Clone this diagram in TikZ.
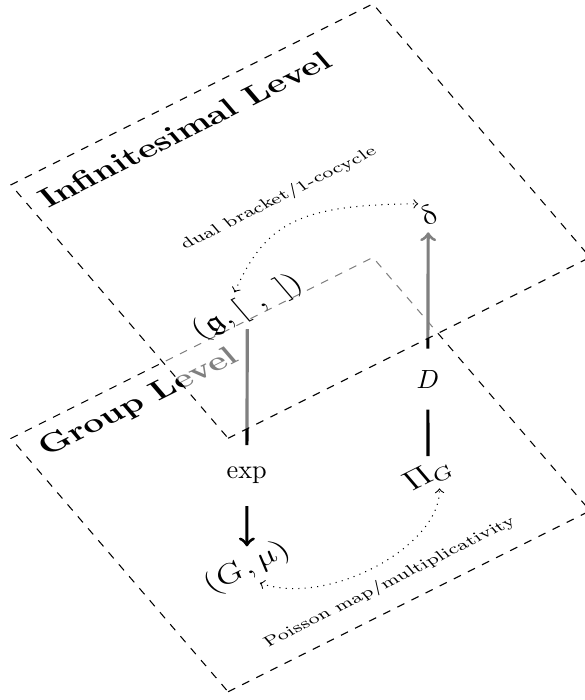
\RequirePackage{fix-cm}
\documentclass[tikz,border=0pt]{standalone}
\usepackage{amssymb}
\pgfdeclarelayer{veil}
\pgfdeclarelayer{upper}
\pgfsetlayers{main,veil,upper}
\begin{document}
\begin{tikzpicture}[>=to,
  sheet/.style={cm={1,0.5,-0.6,0.7,(0,0)}, transform shape},
  frame/.style={dashed},
  title/.style={font=\large\bfseries, anchor=base west},
  obj/.style={font=\large, inner sep=2pt},
  note/.style={font=\fontsize{6.5}{8}\selectfont},
  link/.style={very thick},
  mapname/.style={minimum height=8mm},
  pairing/.style={dotted, <->}]
  \useasboundingbox (0,0) rectangle (7.82,9.36);
  \begin{scope}[shift={(3.05,0.11)}, sheet]
    \draw[frame] (0,0) -- (4.84,0) -- (4.84,4.84) -- (0,4.84) -- cycle;
    \node[title] (grp) at (0.07,4.35) {Group Level};
    \node[obj] (G) at (1.17,1.53) {$(G,\mu)$};
    \node[obj] (Pi) at (3.61,1.56) {$\Pi_G$};
    \draw[pairing] (G.south) .. controls +(-60:0.9) and +(-120:0.9) .. node[note, midway, below=2pt] {Poisson map/multiplicativity} (Pi.south);
  \end{scope}
  \begin{scope}[shift={(3.05,3.50)}, sheet]
    \begin{pgfonlayer}{veil}
      \draw[frame, fill=white, fill opacity=0.5] (0,0) -- (4.84,0) -- (4.84,4.84) -- (0,4.84) -- cycle;
    \end{pgfonlayer}
    \begin{pgfonlayer}{upper}
      \node[title] (inf) at (0.03,4.27) {Infinitesimal Level};
      \node[obj] (g) at (1.23,1.62) {$(\mathfrak{g},[\ ,\ ])$};
      \node[obj] (delta) at (3.66,1.64) {$\delta$};
      \draw[pairing] (g.north) .. controls +(40:1.1) and +(145:1.4) .. node[note, pos=0.53, above=5pt] {dual bracket/1-cocycle} (delta.north);
    \end{pgfonlayer}
  \end{scope}
  \node[mapname] (exp) at (3.30,3.0) {$\exp$};
  \node[mapname] (D) at (5.72,4.29) {$D$};
  \draw[link] (g) -- (exp);
  \draw[link,->] (exp) -- (G);
  \draw[link] (Pi) -- (D);
  \draw[link,->] (D) -- (delta);
\end{tikzpicture}
\end{document}
